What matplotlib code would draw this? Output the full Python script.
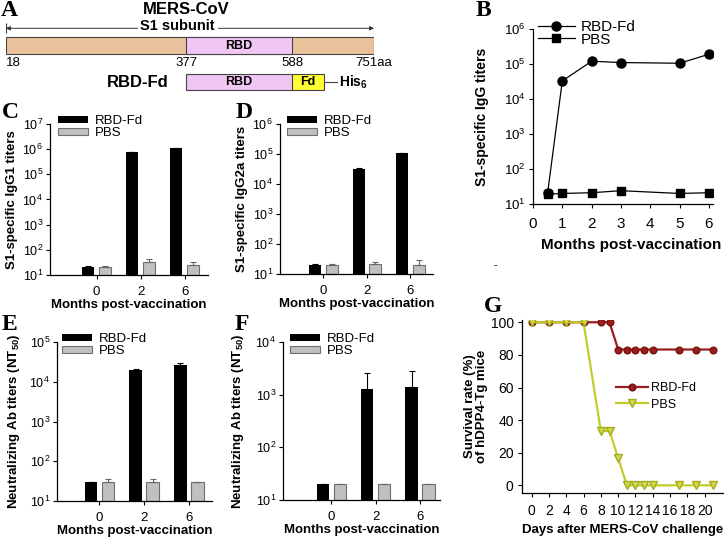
import matplotlib
matplotlib.use('Agg')
import matplotlib.pyplot as plt
import numpy as np
from matplotlib.patches import Rectangle
from matplotlib.ticker import LogLocator, LogFormatterSciNotation, NullLocator

plt.rcParams['font.family'] = ['Liberation Sans', 'DejaVu Sans']
plt.rcParams['mathtext.fontset'] = 'custom'
plt.rcParams['mathtext.rm'] = 'Liberation Sans'
plt.rcParams['mathtext.it'] = 'Liberation Sans:italic'
plt.rcParams['mathtext.bf'] = 'Liberation Sans:bold'
plt.rcParams['axes.linewidth'] = 0.9

W, H = 727, 541

# ---- data ----
# A: S1 subunit domains (residue numbers)
s1_start, rbd_start, rbd_end, s1_end = 18, 377, 588, 751
fd_len = 64

# B: S1-specific IgG over time
b_months = [0.5, 1, 2, 3, 5, 6]
b_rbd = [21, 33000, 120000, 110000, 105000, 190000]
b_pbs = [19, 20, 21, 24, 20, 21]

# C-F: bar panels, months 0 / 2 / 6
months_lbl = ['0', '2', '6']
c_rbd = [21, 7.8e5, 1.07e6]
c_rbd_err = [2, 0, 0]
c_pbs = [21, 32, 26]
c_pbs_err = [2, 11, 8]

d_rbd = [20, 3.1e4, 1.05e5]
d_rbd_err = [1.5, 2500, 3000]
d_pbs = [20, 21, 20]
d_pbs_err = [1.5, 5, 9]

e_rbd = [30, 2.0e4, 2.7e4]
e_rbd_err = [0, 1500, 3000]
e_pbs = [30, 30, 30]
e_pbs_err = [5, 5, 0]

f_rbd = [20, 1300, 1400]
f_rbd_err = [0, 1300, 1450]
f_pbs = [20, 20, 20]
f_pbs_err = [0, 0, 0]

# G: survival
g_days = [0, 2, 4, 6, 8, 9, 10, 11, 12, 13, 14, 17, 19, 21]
g_rbd = [100, 100, 100, 100, 100, 100, 83.3, 83.3, 83.3, 83.3, 83.3, 83.3, 83.3, 83.3]
g_pbs = [100, 100, 100, 100, 33.3, 33.3, 16.7, 0, 0, 0, 0, 0, 0, 0]

RED = '#9b1d1d'
YEL = '#c3cc2c'


def px_rect(l, t, r, b):
    return [l / W, 1 - b / H, (r - l) / W, (b - t) / H]


def log_axis(ax, ylim, size):
    ax.set_yscale('log')
    ax.set_ylim(*ylim)
    ax.yaxis.set_major_locator(LogLocator(base=10, numticks=10))
    ax.yaxis.set_major_formatter(LogFormatterSciNotation())
    ax.yaxis.set_minor_locator(NullLocator())
    ax.tick_params(axis='y', labelsize=size, length=3, width=0.8, pad=2)


fig = plt.figure(figsize=(W / 100, H / 100), dpi=100)

# ---- panel A: schematic ----
ax_a = fig.add_axes(px_rect(6, 0, 374, 100))
ax_a.set_xlim(s1_start, s1_end)
ax_a.set_ylim(100, 0)
ax_a.axis('off')
ax_a.text(378, 10, 'MERS-CoV', ha='center', va='center', fontsize=12, fontweight='bold')
ax_a.annotate('', xy=(s1_start, 28.3), xytext=(s1_end, 28.3),
              arrowprops=dict(arrowstyle='<|-|>', lw=0.7, color='#333333',
                              mutation_scale=6, shrinkA=0, shrinkB=0))
ax_a.vlines([s1_start, s1_end], 23, 33, color='#333333', lw=0.8)
ax_a.text(360, 26, 'S1 subunit', ha='center', va='center', fontsize=10.5, fontweight='bold',
          bbox=dict(facecolor='white', edgecolor='none', pad=2))
ax_a.add_patch(Rectangle((s1_start, 37.3), s1_end - s1_start, 16.7,
                         facecolor='#e9c29c', edgecolor='#444444', lw=0.8))
ax_a.add_patch(Rectangle((rbd_start, 37.3), rbd_end - rbd_start, 16.7,
                         facecolor='#efc6f4', edgecolor='#444444', lw=0.8))
ax_a.text((rbd_start + rbd_end) / 2, 45.6, 'RBD', ha='center', va='center',
          fontsize=9, fontweight='bold')
ax_a.text(s1_start, 63, str(s1_start), ha='left', va='center', fontsize=9.5)
ax_a.text(rbd_start, 63, str(rbd_start), ha='center', va='center', fontsize=9.5)
ax_a.text(rbd_end, 63, str(rbd_end), ha='center', va='center', fontsize=9.5)
ax_a.text(s1_end, 63, '%daa' % s1_end, ha='center', va='center', fontsize=9.5)
ax_a.add_patch(Rectangle((rbd_start, 74), rbd_end - rbd_start, 16.3,
                         facecolor='#efc6f4', edgecolor='#444444', lw=0.8))
ax_a.add_patch(Rectangle((rbd_end, 74), fd_len, 16.3,
                         facecolor='#ffff33', edgecolor='#444444', lw=0.8))
ax_a.text((rbd_start + rbd_end) / 2, 82.2, 'RBD', ha='center', va='center',
          fontsize=9, fontweight='bold')
ax_a.text(rbd_end + fd_len / 2, 82.2, 'Fd', ha='center', va='center',
          fontsize=9, fontweight='bold')
ax_a.plot([rbd_end + fd_len, rbd_end + fd_len + 26], [82.2, 82.2], color='#444444', lw=0.8,
          clip_on=False)
ax_a.text(rbd_end + fd_len + 30, 82.2, r'His$_\mathbf{6}$', ha='left', va='center',
          fontsize=10, fontweight='bold')
ax_a.text(rbd_start - 35, 82.2, 'RBD-Fd', ha='right', va='center',
          fontsize=12, fontweight='bold')

# ---- panel B: IgG kinetics ----
ax_b = fig.add_axes(px_rect(533, 29, 713, 204))
ax_b.plot(b_months, b_rbd, '-o', color='black', lw=0.9, ms=6.5, label='RBD-Fd')
ax_b.plot(b_months, b_pbs, '-s', color='black', lw=0.9, ms=5.8, label='PBS')
log_axis(ax_b, (10, 1e6), 9.5)
ax_b.set_xlim(0, 6.14)
ax_b.set_xticks(range(7))
ax_b.tick_params(axis='x', labelsize=11, length=3, width=0.8, pad=6)
ax_b.spines[['top', 'right']].set_visible(False)
ax_b.set_ylabel('S1-specific IgG titers', fontsize=10, fontweight='bold')
ax_b.yaxis.set_label_coords(-51 / 180, 0.5)
ax_b.yaxis.label.set_va('center')
ax_b.set_xlabel('Months post-vaccination', fontsize=11, fontweight='bold')
ax_b.xaxis.set_label_coords(0.544, -41 / 175)
ax_b.xaxis.label.set_va('center')
ax_b.legend(loc='upper left', bbox_to_anchor=(0.028, 1.05), frameon=False, fontsize=11,
            handlelength=2.4, handletextpad=0.4, labelspacing=-0.1, borderpad=0,
            borderaxespad=0)


# ---- panels C-F: bar charts ----
def bar_panel(rect, xlim, ylim, rbd, rbd_err, pbs, pbs_err, ylabel, leg_pos, ypx):
    ax = fig.add_axes(rect)
    x = np.arange(len(months_lbl))
    w = 0.28
    zeros = np.zeros(len(x))
    ax.bar(x - 0.19, rbd, w, color='black', label='RBD-Fd',
           yerr=[zeros, rbd_err],
           error_kw=dict(ecolor='black', elinewidth=0.8, capsize=2, capthick=0.8))
    ax.bar(x + 0.19, pbs, w, color='#c0c0c0', edgecolor='#6e6e6e', lw=0.8, label='PBS',
           yerr=[zeros, pbs_err],
           error_kw=dict(ecolor='#666666', elinewidth=0.8, capsize=2, capthick=0.8))
    log_axis(ax, ylim, 9)
    ax.set_xlim(*xlim)
    ax.set_xticks(x)
    ax.set_xticklabels(months_lbl)
    ax.tick_params(axis='x', labelsize=9.5, length=3, width=0.8, pad=5)
    ax.spines[['top', 'right']].set_visible(False)
    ax.set_ylabel(ylabel, fontsize=9.5, fontweight='bold')
    ax.yaxis.set_label_coords(-ypx / (rect[2] * W), 0.5)
    ax.yaxis.label.set_va('center')
    ax.set_xlabel('Months post-vaccination', fontsize=9.5, fontweight='bold')
    ax.xaxis.set_label_coords(0.5, -30 / (rect[3] * H))
    ax.xaxis.label.set_va('center')
    ax.legend(loc='upper left', bbox_to_anchor=leg_pos, frameon=False, fontsize=9.5,
              handlelength=2.3, handleheight=0.4, handletextpad=0.5, labelspacing=0.02,
              borderpad=0, borderaxespad=0)
    return ax


bar_panel(px_rect(50, 124, 208, 275), (-1.06, 2.53), (10, 1e7), c_rbd, c_rbd_err,
          c_pbs, c_pbs_err, 'S1-specific IgG1 titers', (0.05, 1.06), 38)
bar_panel(px_rect(280, 124, 433, 274), (-1.0, 2.52), (10, 1e6), d_rbd, d_rbd_err,
          d_pbs, d_pbs_err, 'S1-specific IgG2a titers', (0.046, 1.06), 38)
bar_panel(px_rect(57, 342, 212, 501), (-0.95, 2.52), (10, 1e5), e_rbd, e_rbd_err,
          e_pbs, e_pbs_err, r'Neutralizing Ab titers (NT$_\mathbf{50}$)', (0.03, 1.057), 43)
bar_panel(px_rect(283, 342, 440, 500), (-1.09, 2.45), (10, 1e4), f_rbd, f_rbd_err,
          f_pbs, f_pbs_err, r'Neutralizing Ab titers (NT$_\mathbf{50}$)', (0.045, 1.057), 45)

# ---- panel G: survival ----
ax_g = fig.add_axes(px_rect(522, 320, 723, 493))
ax_g.plot(g_days, g_rbd, '-o', color=RED, lw=1.6, ms=4.8, mfc=RED, mec='#7a1010',
          label='RBD-Fd')
ax_g.plot(g_days, g_pbs, '-v', color=YEL, lw=1.6, ms=5.5, mfc='#d2da4c', mec='#a3ab1c',
          label='PBS')
ax_g.set_xlim(-1.1, 22.1)
ax_g.set_ylim(-4.7, 101.4)
ax_g.set_xticks(range(0, 21, 2))
ax_g.set_yticks(range(0, 101, 20))
ax_g.tick_params(labelsize=10, length=3, width=0.8, pad=3)
ax_g.tick_params(axis='x', pad=5)
ax_g.spines[['top', 'right']].set_visible(False)
ax_g.set_ylabel('Survival rate (%)\nof hDPP4-Tg mice', fontsize=9.5, fontweight='bold',
                linespacing=1.0)
ax_g.yaxis.set_label_coords(-46 / 201, 0.5)
ax_g.yaxis.label.set_va('center')
ax_g.set_xlabel('Days after MERS-CoV challenge', fontsize=9.5, fontweight='bold')
ax_g.xaxis.set_label_coords(0.5, -37 / 173)
ax_g.xaxis.label.set_va('center')
ax_g.legend(loc='upper left', bbox_to_anchor=(0.47, 0.64), frameon=False, fontsize=9,
            handlelength=2.5, handletextpad=0.3, labelspacing=0.35, borderpad=0,
            borderaxespad=0)

# ---- panel letters ----
ax_bg = fig.add_axes([0, 0, 1, 1], zorder=-1)
ax_bg.set_xlim(0, W)
ax_bg.set_ylim(H, 0)
ax_bg.axis('off')
letters = {'A': (9, 10), 'B': (483, 10), 'C': (10, 112), 'D': (244, 112),
           'E': (9, 324), 'F': (242, 324), 'G': (493, 307)}
for k, (lx, ly) in letters.items():
    ax_bg.text(lx, ly, k, ha='center', va='center', fontsize=17, fontweight='bold',
               family=['Liberation Serif', 'DejaVu Serif'])
ax_bg.text(495, 265, '-', ha='center', va='center', fontsize=8)

fig.savefig('out.png', dpi=100)
